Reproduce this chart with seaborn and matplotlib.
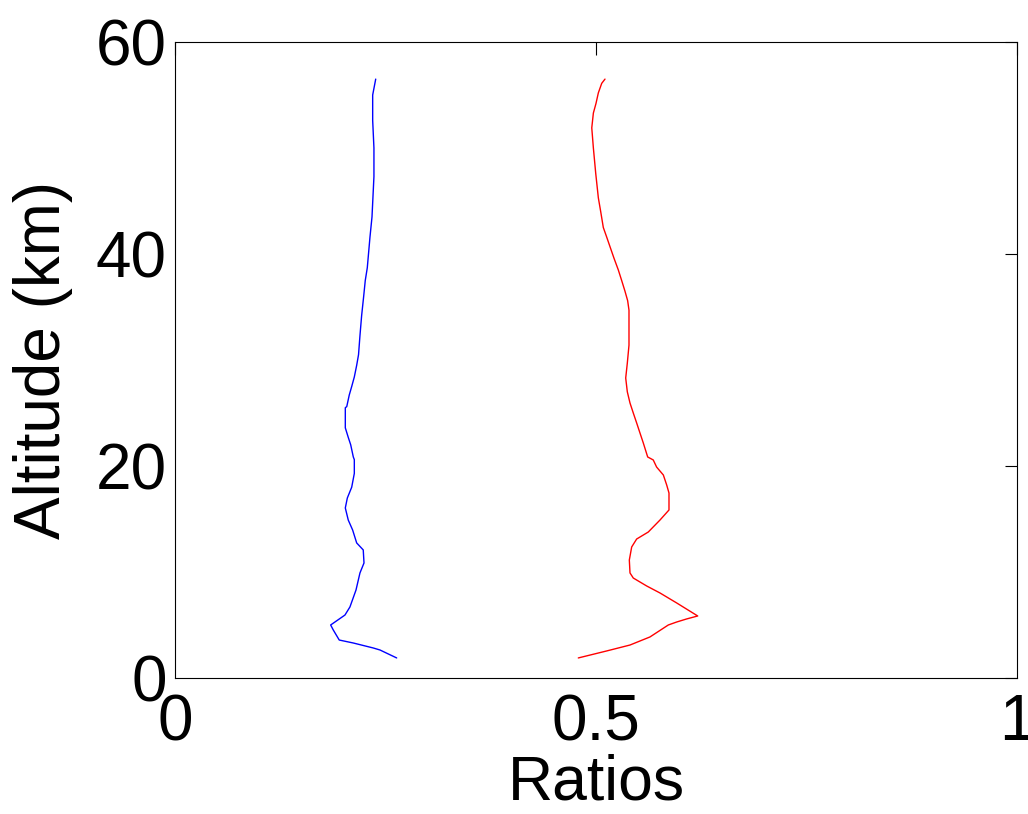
import matplotlib
matplotlib.use("Agg")
import matplotlib.pyplot as plt
import seaborn as sns
import pandas as pd

blue_ratio = [0.2633, 0.2435, 0.2355, 0.2118, 0.1951, 0.188, 0.1849, 0.2019, 0.2078, 0.215,
              0.2197, 0.2245, 0.2236, 0.2158, 0.211, 0.2058, 0.2023, 0.2047, 0.2099, 0.213,
              0.213, 0.2118, 0.2087, 0.2058, 0.2023, 0.2023, 0.204, 0.207, 0.2099, 0.213,
              0.2158, 0.218, 0.2197, 0.2217, 0.2241, 0.226, 0.2284, 0.2316, 0.234, 0.2363,
              0.2363, 0.2348, 0.2348, 0.2384]
blue_alt = [1.89, 2.64, 2.83, 3.30, 3.58, 4.53, 5.0, 5.94, 6.70, 8.30,
            9.91, 10.85, 12.08, 12.74, 13.96, 14.9, 16.04, 16.98, 18.0, 19.3,
            20.6, 20.85, 22.0, 22.7, 23.6, 25.5, 25.6, 26.7, 27.5, 28.4,
            29.5, 30.5, 32.3, 34.2, 36.0, 37.5, 38.7, 41.6, 43.5, 47.3,
            50.0, 52.6, 55.0, 56.5]

red_ratio = [0.479, 0.5127, 0.5404, 0.5641, 0.5859, 0.5958, 0.6077, 0.6208, 0.5958, 0.576,
             0.5602, 0.5443, 0.5404, 0.5396, 0.5424, 0.5483, 0.5621, 0.576, 0.5867, 0.5867,
             0.584, 0.58, 0.572, 0.568, 0.5614, 0.5562, 0.5523, 0.5483, 0.5443, 0.5404,
             0.5372, 0.5353, 0.5372, 0.5392, 0.5392, 0.5376, 0.5344, 0.5305, 0.5265, 0.5214,
             0.5166, 0.5127, 0.5087, 0.5056, 0.5028, 0.4997, 0.4969, 0.495, 0.4969, 0.5,
             0.5028, 0.5068, 0.5107]
red_alt = [1.89, 2.55, 3.11, 3.87, 5.0, 5.28, 5.57, 5.85, 7.08, 8.02,
           8.68, 9.43, 9.91, 11.13, 12.36, 13.11, 13.77, 14.9, 15.85, 17.45,
           18.2, 19.15, 19.9, 20.57, 20.85, 22.17, 23.1, 24.06, 25.0, 25.94,
           27.0, 28.3, 29.7, 31.4, 34.7, 35.6, 36.5, 37.5, 38.5, 39.6,
           40.7, 41.6, 42.5, 44.0, 45.3, 47.6, 50.0, 51.9, 53.3, 54.2,
           55.2, 56.1, 56.5]

x_ticks = [0, 0.5, 1]
x_tick_labels = ["0", "0.5", "1"]
y_ticks = [0, 20, 40, 60]

sns.set_style("white")
plt.rcParams['font.family'] = ['Liberation Sans', 'DejaVu Sans']

fig = plt.figure(figsize=(10.28, 8.14), dpi=100)
ax = fig.add_axes([0.1702, 0.1671, 0.8191, 0.7813])

df_b = pd.DataFrame({"Ratios": blue_ratio, "Alt": blue_alt})
df_r = pd.DataFrame({"Ratios": red_ratio, "Alt": red_alt})
sns.lineplot(data=df_b, x="Ratios", y="Alt", sort=False, estimator=None,
             color="#0000ff", linewidth=1.0, ax=ax)
sns.lineplot(data=df_r, x="Ratios", y="Alt", sort=False, estimator=None,
             color="#ff0000", linewidth=1.0, ax=ax)

ax.set_xlim(0, 1)
ax.set_ylim(0, 60)
ax.set_xticks(x_ticks)
ax.set_xticklabels(x_tick_labels)
ax.set_yticks(y_ticks)
ax.tick_params(direction="in", length=9, width=0.8, labelsize=46, colors="black",
               labelcolor="black", top=True, right=True)
ax.tick_params(axis="x", pad=11)
ax.tick_params(axis="y", pad=6)
for s in ax.spines.values():
    s.set_visible(True)
    s.set_color("black")
    s.set_linewidth(0.8)
ax.set_xlabel("Ratios", fontsize=45, labelpad=0, color="black")
ax.set_ylabel("Altitude (km)", fontsize=46, labelpad=16, color="black")

fig.savefig("out.png", dpi=100, facecolor="white")
